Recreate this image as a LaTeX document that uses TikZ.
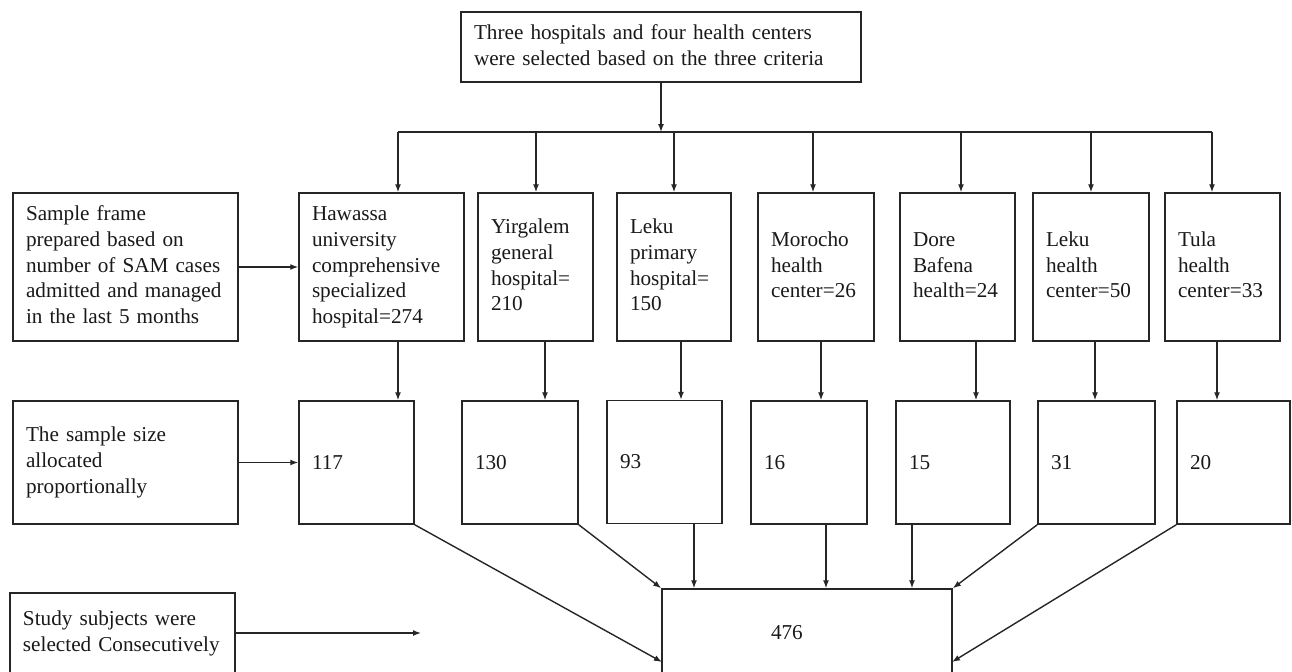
\documentclass[tikz,border=0pt]{standalone}
\usepackage{fontspec}
\setmainfont{Liberation Serif}
\usetikzlibrary{arrows.meta}
\newcommand\tl[1]{\begin{tabular}{@{}l@{}}#1\end{tabular}}
\begin{document}
\begin{tikzpicture}[x=0.5pt,y=-0.5pt,
  box/.style={draw=black!85, line width=0.75pt, inner xsep=6.5pt, inner ysep=0pt, align=left,
    font=\fontsize{10.6}{12.9}\selectfont, text=black!90},
  arr/.style={draw=black!85, line width=0.7pt, -{Latex[length=4pt,width=3pt]}},
  ln/.style={draw=black!85, line width=0.7pt}]
\useasboundingbox (0,0) rectangle (1292,671);
\clip (0,0) rectangle (1292,671);
% top
\node[box, text width=187pt, minimum height=35pt] (top) at (661,47)
  {\tl{Three hospitals and four health centers\\were selected based on the three criteria}};
% row 1
\node[box, text width=99.5pt, minimum height=74pt] (sf) at (125.5,267)
  {\tl{Sample frame\\prepared based on\\number of SAM cases\\admitted and managed\\in the last 5 months}};
\node[box, text width=69.5pt, minimum height=74pt] (hw) at (381.5,267)
  {\tl{Hawassa\\university\\comprehensive\\specialized\\hospital=274}};
\node[box, text width=44.5pt, minimum height=74pt] (yg) at (535.5,267)
  {\tl{Yirgalem\\general\\hospital=\\210\\ }};
\node[box, text width=44pt, minimum height=74pt] (lp) at (674,267)
  {\tl{Leku\\primary\\hospital=\\150}};
\node[box, text width=45pt, minimum height=74pt] (mo) at (816,267)
  {\tl{Morocho\\health\\center=26}};
\node[box, text width=44.5pt, minimum height=74pt] (db) at (957.5,267)
  {\tl{Dore\\Bafena\\health=24}};
\node[box, text width=45pt, minimum height=74pt] (lh) at (1091,267)
  {\tl{Leku\\health\\center=50}};
\node[box, text width=44.5pt, minimum height=74pt] (tu) at (1222.5,267)
  {\tl{Tula\\health\\center=33}};
% row 2
\node[box, text width=99.5pt, minimum height=61.5pt] (ss) at (125.5,462.5)
  {\tl{The sample size\\allocated\\proportionally}};
\node[box, text width=44.5pt, minimum height=61.5pt] (n117) at (356.5,462.5) {117};
\node[box, text width=45pt, minimum height=61.5pt] (n130) at (520,462.5) {130};
\node[box, text width=44.5pt, minimum height=61.5pt] (n93) at (664.5,462) {93};
\node[box, text width=45pt, minimum height=61.5pt] (n16) at (809,462.5) {16};
\node[box, text width=44pt, minimum height=61.5pt] (n15) at (953,462.5) {15};
\node[box, text width=45.5pt, minimum height=61.5pt] (n31) at (1096.5,462.5) {31};
\node[box, text width=43.5pt, minimum height=61.5pt] (n20) at (1233.5,462.5) {20};
% bottom
\node[box, inner xsep=54.5pt, text width=36pt, minimum height=44pt] (total) at (807,633) {476};
\node[box, text width=99.5pt, minimum height=40pt] (study) at (122.5,633)
  {\tl{Study subjects were\\selected Consecutively}};
% connectors
\draw[arr] (sf.east) -- (hw.west);
\draw[arr] (ss.east) -- (n117.west);
\coordinate (sEnd) at (421,633);
\draw[arr] (study.east) -- (sEnd);
\coordinate (jc) at (661,132);
\draw[arr] (top.south) -- (jc);
\coordinate (j1) at (398,132);
\coordinate (j2) at (536,132);
\coordinate (j3) at (674,132);
\coordinate (j4) at (813,132);
\coordinate (j5) at (961,132);
\coordinate (j6) at (1091,132);
\coordinate (j7) at (1212,132);
\draw[ln] (j1) -- (j7);
\foreach \j/\n in {j1/hw, j2/yg, j3/lp, j4/mo, j5/db, j6/lh, j7/tu}
  \draw[arr] (\j) -- (\j |- \n.north);
\coordinate (d1) at (398,341);
\coordinate (d2) at (545,341);
\coordinate (d3) at (681,341);
\coordinate (d4) at (821,341);
\coordinate (d5) at (976,341);
\coordinate (d6) at (1095,341);
\coordinate (d7) at (1217,341);
\foreach \d/\n in {d1/n117, d2/n130, d3/n93, d4/n16, d5/n15, d6/n31, d7/n20}
  \draw[arr] (\d) -- (\d |- \n.north);
\coordinate (t1) at (662,662);
\coordinate (t2) at (952,662);
\draw[arr] (n117.south east) -- (t1);
\draw[arr] (n130.south east) -- (total.north west);
\coordinate (e93) at (694,524);
\coordinate (e16) at (826,524);
\coordinate (e15) at (912,524);
\draw[arr] (e93) -- (e93 |- total.north);
\draw[arr] (e16) -- (e16 |- total.north);
\draw[arr] (e15) -- (e15 |- total.north);
\draw[arr] (n31.south west) -- (total.north east);
\draw[arr] (n20.south west) -- (t2);
\end{tikzpicture}
\end{document}
